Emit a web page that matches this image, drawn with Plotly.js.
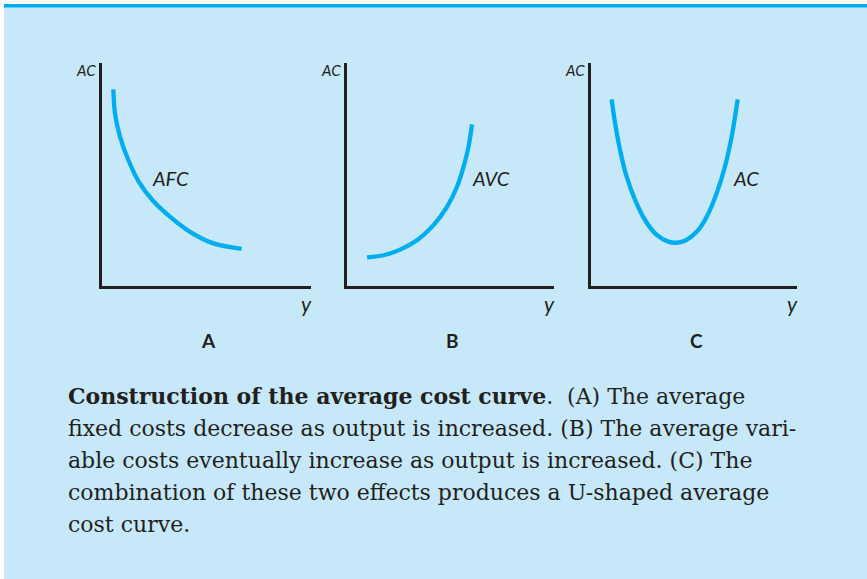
<!DOCTYPE html>
<html><head><meta charset="utf-8">
<script src="https://cdn.plot.ly/plotly-3.0.1.min.js"></script>
<style>html,body{margin:0;padding:0;background:#fff;}#chart{width:867px;height:579px;}</style>
</head><body><div id="chart"></div>
<script>
// Panel A: average fixed cost
var afcX = [0.54, 0.62, 0.86, 1.26, 1.77, 2.45, 3.25, 4.21, 5.33, 6.68];
var afcY = [8.82, 7.75, 6.70, 5.65, 4.66, 3.81, 3.11, 2.43, 1.91, 1.66];
// Panel B: average variable cost
var avcX = [0.97, 1.77, 2.57, 3.38, 4.18, 4.83, 5.31, 5.63, 5.87, 6.04];
var avcY = [1.28, 1.38, 1.63, 2.05, 2.73, 3.55, 4.44, 5.34, 6.24, 7.25];
// Panel C: average cost
var acX = [1.00, 1.17, 1.41, 1.73, 2.14, 2.62, 3.19, 3.75, 4.13, 4.56, 5.13, 5.62, 6.10, 6.50, 6.83, 7.12];
var acY = [8.37, 7.30, 6.10, 4.90, 3.86, 2.96, 2.29, 1.99, 1.94, 2.03, 2.43, 3.11, 4.16, 5.35, 6.70, 8.37];

var curveNames = ['AFC', 'AVC', 'AC'];
var panelLetters = ['A', 'B', 'C'];
var captionLines = [
  '<b>Construction of the average cost curve</b>.  (A) The average',
  'fixed costs decrease as output is increased. (B) The average vari-',
  'able costs eventually increase as output is increased. (C) The',
  'combination of these two effects produces a U-shaped average',
  'cost curve.'
];

var W = 867, H = 579;
function px(x){return x/W;}
function py(y){return 1 - y/H;}

var curveColor = '#00aeef';
var ink = '#231f20';
var lineStyle = {color: curveColor, width: 4.3, shape: 'spline', smoothing: 0.8};

var traces = [
  {x: afcX, y: afcY, xaxis: 'x', yaxis: 'y', mode: 'lines', line: lineStyle, hoverinfo: 'skip', name: curveNames[0]},
  {x: avcX, y: avcY, xaxis: 'x2', yaxis: 'y2', mode: 'lines', line: lineStyle, hoverinfo: 'skip', name: curveNames[1]},
  {x: acX, y: acY, xaxis: 'x3', yaxis: 'y3', mode: 'lines', line: lineStyle, hoverinfo: 'skip', name: curveNames[2]}
];

var panels = [[102, 311], [347, 554], [591, 797]];
var yTop = 63, yBot = 286;

function axX(dom, anchor){
  return {domain: dom, range: [0, 10], showline: true, linecolor: ink, linewidth: 2.8,
    showgrid: false, zeroline: false, showticklabels: false, ticks: '', anchor: anchor, fixedrange: true};
}
function axY(anchor){
  return {domain: [py(yBot), py(yTop)], range: [0, 10], showline: true, linecolor: ink, linewidth: 2.8,
    showgrid: false, zeroline: false, showticklabels: false, ticks: '', anchor: anchor, fixedrange: true};
}

var layout = {
  width: W, height: H,
  margin: {l: 0, r: 0, t: 0, b: 0, pad: 0},
  paper_bgcolor: '#ffffff',
  plot_bgcolor: 'rgba(0,0,0,0)',
  showlegend: false,
  xaxis: axX([px(panels[0][0]), px(panels[0][1])], 'y'),
  yaxis: axY('x'),
  xaxis2: axX([px(panels[1][0]), px(panels[1][1])], 'y2'),
  yaxis2: axY('x2'),
  xaxis3: axX([px(panels[2][0]), px(panels[2][1])], 'y3'),
  yaxis3: axY('x3'),
  shapes: [
    {type: 'rect', xref: 'paper', yref: 'paper', x0: px(4), x1: 1, y0: 0, y1: py(4), fillcolor: '#c6e8f8', line: {width: 0}, layer: 'below'},
    {type: 'rect', xref: 'paper', yref: 'paper', x0: px(4), x1: 1, y0: py(7.5), y1: py(4), fillcolor: '#00aeef', line: {width: 0}, layer: 'below'}
  ],
  annotations: []
};

var sansFam = 'Lato, "Open Sans", sans-serif';
var curveLabelPos = [[2.30, 4.84], [5.93, 4.84], [6.80, 4.84]];
var axisIds = ['', '2', '3'];
for (var i = 0; i < 3; i++) {
  layout.annotations.push({xref: 'x' + axisIds[i], yref: 'y' + axisIds[i], x: curveLabelPos[i][0], y: curveLabelPos[i][1],
    text: '<i>' + curveNames[i] + '</i>', showarrow: false, xanchor: 'left', yanchor: 'middle',
    font: {family: sansFam, size: 20, color: ink}});
  layout.annotations.push({xref: 'paper', yref: 'paper', x: px(panels[i][0] - 4), y: py(70), text: '<i>AC</i>',
    showarrow: false, xanchor: 'right', yanchor: 'middle', font: {family: sansFam, size: 15, color: ink}});
  layout.annotations.push({xref: 'paper', yref: 'paper', x: px(panels[i][1] - 5), y: py(303), text: '<i>y</i>',
    showarrow: false, xanchor: 'center', yanchor: 'middle', font: {family: sansFam, size: 21, color: ink}});
  layout.annotations.push({xref: 'paper', yref: 'paper', x: px((panels[i][0] + panels[i][1]) / 2 + 2), y: py(340), text: '<b>' + panelLetters[i] + '</b>',
    showarrow: false, xanchor: 'center', yanchor: 'middle', font: {family: sansFam, size: 19, color: ink}});
}
for (var j = 0; j < captionLines.length; j++) {
  layout.annotations.push({xref: 'paper', yref: 'paper', x: px(66), y: py(396 + 32 * j), text: captionLines[j],
    showarrow: false, xanchor: 'left', yanchor: 'middle', align: 'left',
    font: {family: '"DejaVu Serif", serif', size: 22, color: ink}});
}

Plotly.newPlot('chart', traces, layout, {staticPlot: true, displayModeBar: false});
</script>
</body></html>
